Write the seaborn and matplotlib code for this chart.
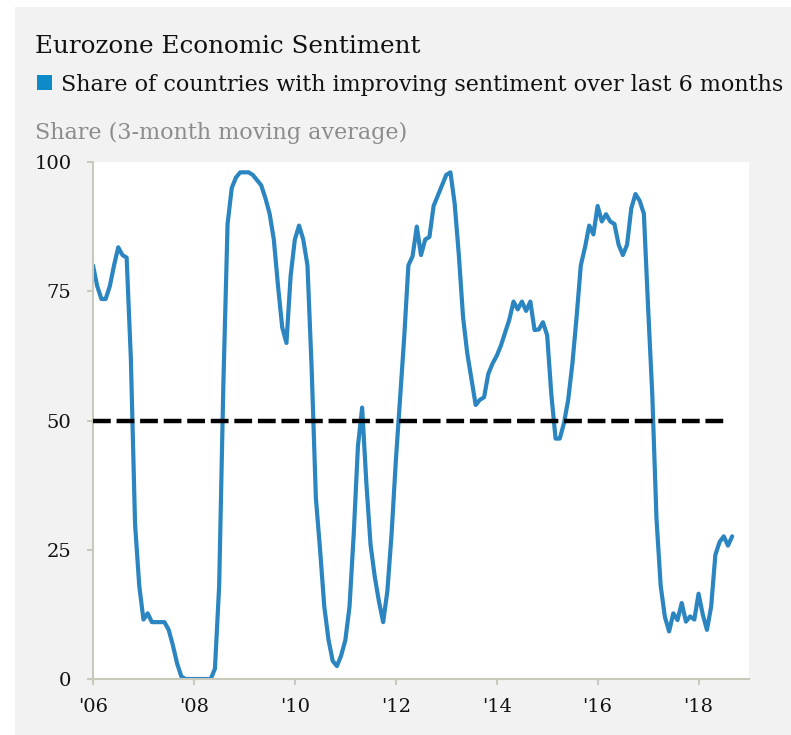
import numpy as np
import pandas as pd
import matplotlib
matplotlib.use("Agg")
import matplotlib.pyplot as plt
from matplotlib.patches import Rectangle
import seaborn as sns

# Monthly share of eurozone countries with improving sentiment, Jan 2006 - Sep 2018
share = [
    80, 76, 73.5, 73.5, 76, 80, 83.5, 82, 81.5, 62, 30, 18,            # 2006
    11.5, 12.7, 11, 11, 11, 11, 9.5, 6.5, 3, 0.5, 0, 0,              # 2007
    0, 0, 0, 0, 0, 2, 18, 57, 88, 95, 97, 98,                         # 2008
    98, 98, 97.5, 96.5, 95.5, 93, 90, 85, 76, 68, 65, 78,             # 2009
    85, 87.7, 85, 80, 60, 35, 25, 14, 7.6, 3.5, 2.5, 4.5,             # 2010
    7.5, 14, 28, 45, 52.5, 38, 26, 19.8, 15, 11, 17, 28,              # 2011
    42, 54, 66, 80, 81.8, 87.5, 82, 85, 85.5, 91.5, 93.5, 95.5,       # 2012
    97.5, 98, 92, 82, 70, 63, 58, 53, 54, 54.5, 59, 61,               # 2013
    62.5, 64.5, 67, 69.5, 73, 71.5, 73, 71.2, 73, 67.5, 67.6, 69,     # 2014
    66.5, 55, 46.5, 46.5, 49.5, 54, 61, 70, 80, 83.5, 87.7, 86,       # 2015
    91.5, 88.5, 89.9, 88.5, 88, 84, 82, 84, 91, 93.8, 92.5, 90,       # 2016
    72, 55, 31, 18, 12, 9.2, 12.7, 11.4, 14.7, 11.1, 12.1, 11.5,      # 2017
    16.5, 12.5, 9.5, 14, 24, 26.5, 27.6, 25.8, 27.6,                  # 2018
]
start_year = 2006
threshold = 50
tick_years = [2006, 2008, 2010, 2012, 2014, 2016, 2018]
tick_labels = ["'06", "'08", "'10", "'12", "'14", "'16", "'18"]
y_ticks = [0, 25, 50, 75, 100]

title = "Eurozone Economic Sentiment"
series_name = "Share of countries with improving sentiment over last 6 months"
y_title = "Share (3-month moving average)"

dates = start_year + np.arange(len(share)) / 12.0
df = pd.DataFrame({"date": dates, "share": share})
ref = pd.DataFrame({"date": dates[:-1], "level": threshold})

sns.set_style("white")
plt.rcParams["font.family"] = ["DejaVu Serif"]

W, H = 791, 735
fig = plt.figure(figsize=(W / 100, H / 100), dpi=100, facecolor="white")

def fx(px):
    return px / W

def fy(py):
    return 1 - py / H

# light grey card behind everything
fig.patches.append(Rectangle((fx(15), 0), 1, fy(7), transform=fig.transFigure,
                             facecolor="#f2f2f2", edgecolor="none", zorder=-10))

ax = fig.add_axes([fx(93), fy(679), fx(749) - fx(93), fy(162) - fy(679)])
ax.set_facecolor("white")

line_color = "#2a85c0"
sns.lineplot(data=df, x="date", y="share", ax=ax, color=line_color, lw=3.0, zorder=2)
sns.lineplot(data=ref, x="date", y="level", ax=ax, color="black", lw=3.2,
             dashes=False, zorder=3)
ax.lines[-1].set_linestyle((0, (4, 1.3)))

ax.set_xlim(2006, 2019)
ax.set_ylim(0, 100)
ax.set_xticks(tick_years)
ax.set_xticklabels(tick_labels)
ax.set_yticks(y_ticks)
ax.set_xlabel("")
ax.set_ylabel("")

spine_color = "#c9c9bb"
for side in ["top", "right"]:
    ax.spines[side].set_visible(False)
for side in ["left", "bottom"]:
    ax.spines[side].set_color(spine_color)
    ax.spines[side].set_linewidth(1.5)
ax.tick_params(axis="both", which="major", length=4.5, width=1.5, color=spine_color,
               labelsize=14, labelcolor="#111111")
ax.tick_params(axis="y", pad=11, left=True)
ax.tick_params(axis="x", pad=9, bottom=True)

fig.text(fx(35), fy(53), title, fontsize=17.7, color="#111111", va="baseline", ha="left")
fig.patches.append(Rectangle((fx(37), fy(90)), fx(15), fy(75) - fy(90),
                             transform=fig.transFigure, facecolor="#0d8ac8",
                             edgecolor="none", zorder=1))
fig.text(fx(61), fy(91), series_name, fontsize=16, color="#111111", va="baseline", ha="left")
fig.text(fx(35), fy(139), y_title, fontsize=16, color="#8c8c8c", va="baseline", ha="left")

fig.savefig("out.png", dpi=100, facecolor=fig.get_facecolor())
